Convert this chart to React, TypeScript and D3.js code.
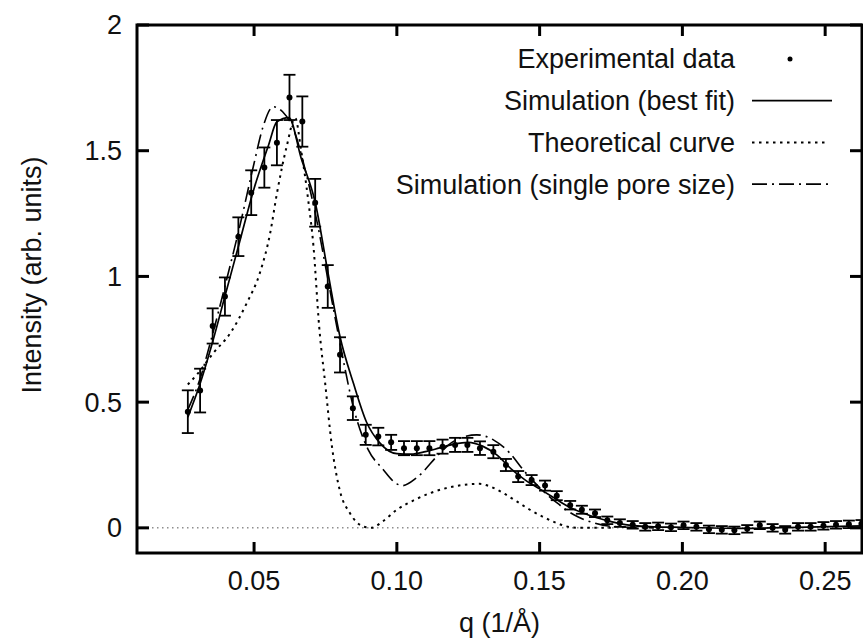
import React from "react";
import * as d3 from "d3";

// experimental points: q, intensity, error
const expQ = [
  0.0268, 0.0311, 0.0355, 0.0398, 0.0445, 0.049, 0.0536, 0.058, 0.0624, 0.0669,
  0.0714, 0.0758, 0.0801, 0.0846, 0.0891, 0.0935, 0.098, 0.1025, 0.107, 0.1114,
  0.116, 0.1204, 0.1247, 0.1291, 0.1338, 0.1382, 0.1425, 0.1472, 0.1519, 0.156,
  0.1607, 0.1648, 0.1694, 0.1737, 0.1781, 0.1826, 0.187, 0.1915, 0.196, 0.2004,
  0.2049, 0.2093, 0.2138, 0.2182, 0.2227, 0.2271, 0.2316, 0.236, 0.2405, 0.2449,
  0.2494, 0.2538, 0.2583, 0.2627,
];
const expI = [
  0.462, 0.546, 0.803, 0.92, 1.158, 1.333, 1.433, 1.532, 1.712, 1.616,
  1.293, 0.96, 0.688, 0.476, 0.37, 0.363, 0.34, 0.317, 0.317, 0.317,
  0.323, 0.33, 0.33, 0.317, 0.303, 0.25, 0.204, 0.19, 0.168, 0.128,
  0.09, 0.072, 0.058, 0.03, 0.019, 0.012, 0.004, 0.006, 0.002, 0.01,
  0.004, -0.006, -0.008, -0.01, -0.004, 0.01, 0.0, -0.008, 0.004, 0.004,
  0.008, 0.012, 0.014, 0.016,
];
const expErr = [
  0.085, 0.087, 0.07, 0.076, 0.077, 0.089, 0.08, 0.09, 0.09, 0.1,
  0.095, 0.085, 0.07, 0.047, 0.04, 0.035, 0.03, 0.028, 0.028, 0.028,
  0.028, 0.028, 0.028, 0.027, 0.026, 0.024, 0.022, 0.02, 0.02, 0.018,
  0.017, 0.016, 0.015, 0.015, 0.015, 0.015, 0.015, 0.015, 0.015, 0.015,
  0.015, 0.015, 0.015, 0.015, 0.015, 0.015, 0.015, 0.015, 0.015, 0.015,
  0.015, 0.015, 0.015, 0.015,
];

// simulation (best fit)
const fitQ = [
  0.0268, 0.031, 0.035, 0.04, 0.045, 0.05, 0.055, 0.058, 0.0622, 0.0665,
  0.0714, 0.0758, 0.0801, 0.0848, 0.0894, 0.0941, 0.1, 0.105, 0.11, 0.115,
  0.12, 0.125, 0.13, 0.135, 0.14, 0.145, 0.15, 0.155, 0.16, 0.165,
  0.17, 0.175, 0.18, 0.19, 0.2, 0.22, 0.24, 0.2629,
];
const fitI = [
  0.44, 0.57, 0.72, 0.93, 1.14, 1.35, 1.52, 1.615, 1.632, 1.47,
  1.295, 1.02, 0.76, 0.575, 0.42, 0.337, 0.295, 0.293, 0.303, 0.318,
  0.333, 0.34, 0.325, 0.29, 0.235, 0.19, 0.155, 0.12, 0.085, 0.06,
  0.04, 0.025, 0.013, 0.004, 0.002, -0.002, 0.002, 0.008,
];

// theoretical curve
const theoQ = [
  0.0268, 0.03, 0.0357, 0.0417, 0.0474, 0.052, 0.0556, 0.058, 0.0614, 0.0644,
  0.0665, 0.069, 0.0708, 0.0728, 0.0749, 0.0772, 0.08, 0.0836, 0.0883, 0.091,
  0.095, 0.1, 0.106, 0.1116, 0.118, 0.1233, 0.129, 0.133, 0.1373, 0.142,
  0.1466, 0.151, 0.156, 0.1607, 0.165, 0.175,
];
const theoI = [
  0.57, 0.61, 0.695, 0.775, 0.893, 1.013, 1.17, 1.33, 1.516, 1.63,
  1.5, 1.3, 1.12, 0.8, 0.575, 0.33, 0.15, 0.058, 0.005, 0.0,
  0.025, 0.072, 0.11, 0.138, 0.16, 0.171, 0.175, 0.163, 0.138, 0.105,
  0.072, 0.045, 0.019, 0.003, 0.0, 0.0,
];

// simulation (single pore size)
const singleQ = [
  0.0268, 0.031, 0.035, 0.04, 0.045, 0.05, 0.053, 0.0567, 0.06, 0.064,
  0.068, 0.072, 0.076, 0.08, 0.085, 0.09, 0.095, 0.1, 0.102, 0.107,
  0.1151, 0.1197, 0.128, 0.1338, 0.1396, 0.1443, 0.15, 0.156, 0.162, 0.169,
  0.176, 0.19,
];
const singleI = [
  0.47, 0.59, 0.75, 0.97, 1.2, 1.45, 1.59, 1.675, 1.655, 1.58,
  1.42, 1.22, 0.98, 0.74, 0.47, 0.31, 0.235, 0.175, 0.168, 0.2,
  0.297, 0.343, 0.37, 0.35, 0.297, 0.23, 0.16, 0.1, 0.052, 0.02,
  0.005, 0.0,
];

const xTicks = [0.05, 0.1, 0.15, 0.2, 0.25];
const xTickLabels = ["0.05", "0.10", "0.15", "0.20", "0.25"];
const yTicks = [0, 0.5, 1, 1.5, 2];
const yTickLabels = ["0", "0.5", "1", "1.5", "2"];
const legendLabels = [
  "Experimental data",
  "Simulation (best fit)",
  "Theoretical curve",
  "Simulation (single pore size)",
];

const W = 863;
const H = 640;
const left = 137;
const right = 862;
const top = 25;
const bottom = 553;
const font = "'Liberation Sans', Arial, sans-serif";

export default function App() {
  const x = d3.scaleLinear().domain([0.009, 0.2629]).range([left, right]);
  const y = d3.scaleLinear().domain([-0.1, 2]).range([bottom, top]);

  const line = d3
    .line<[number, number]>()
    .x((d) => x(d[0]))
    .y((d) => y(d[1]))
    .curve(d3.curveMonotoneX);

  const zip = (qs: number[], vs: number[]) =>
    qs.map((q, i) => [q, vs[i]] as [number, number]);

  const legendX = 735;
  const legendY0 = 59;
  const legendStep = 41.7;
  const sampleX0 = 752;
  const sampleX1 = 832;

  return (
    <>
      <style>{`body{margin:0}`}</style>
      <svg width={W} height={H} style={{ display: "block", background: "#fff" }}>
        <defs>
          <clipPath id="plot">
            <rect x={left} y={top} width={right - left} height={bottom - top} />
          </clipPath>
        </defs>

        {/* zero line */}
        <line
          x1={left}
          x2={right}
          y1={y(0)}
          y2={y(0)}
          stroke="#555"
          strokeWidth={1}
          strokeDasharray="1.5,3.5"
        />

        <g clipPath="url(#plot)" fill="none" stroke="#000">
          <path d={line(zip(theoQ, theoI)) || ""} strokeWidth={2} strokeDasharray="2.5,4.5" />
          <path d={line(zip(singleQ, singleI)) || ""} strokeWidth={1.6} strokeDasharray="15,5,2,5" />
          <path d={line(zip(fitQ, fitI)) || ""} strokeWidth={1.7} />

          {expQ.map((q, i) => {
            const cx = x(q);
            const y1 = y(expI[i] + expErr[i]);
            const y2 = y(expI[i] - expErr[i]);
            return (
              <g key={i} strokeWidth={1.8}>
                <line x1={cx} x2={cx} y1={y1} y2={y2} />
                <line x1={cx - 6} x2={cx + 6} y1={y1} y2={y1} />
                <line x1={cx - 6} x2={cx + 6} y1={y2} y2={y2} />
                <circle cx={cx} cy={y(expI[i])} r={3} fill="#000" stroke="none" />
              </g>
            );
          })}
        </g>

        {/* frame */}
        <rect
          x={left}
          y={top}
          width={right - left}
          height={bottom - top}
          fill="none"
          stroke="#000"
          strokeWidth={3}
        />

        {/* ticks */}
        {xTicks.map((t) => (
          <g key={"xt" + t} stroke="#000" strokeWidth={3}>
            <line x1={x(t)} x2={x(t)} y1={bottom} y2={bottom - 11} />
            <line x1={x(t)} x2={x(t)} y1={top} y2={top + 11} />
          </g>
        ))}
        {yTicks.map((t) => (
          <g key={"yt" + t} stroke="#000" strokeWidth={3}>
            <line x1={left} x2={left + 12} y1={y(t)} y2={y(t)} />
            <line x1={right} x2={right - 12} y1={y(t)} y2={y(t)} />
          </g>
        ))}

        {/* tick labels */}
        <g fontFamily={font} fontSize={27} fill="#111">
          {xTicks.map((t, i) => (
            <text key={"xl" + t} x={x(t)} y={590} textAnchor="middle">
              {xTickLabels[i]}
            </text>
          ))}
          {yTicks.map((t, i) => (
            <text key={"yl" + t} x={122} y={y(t)} dy="0.35em" textAnchor="end">
              {yTickLabels[i]}
            </text>
          ))}

          <text x={(left + right) / 2} y={632} textAnchor="middle">
            q (1/Å)
          </text>
          <text
            transform={`translate(41, 275) rotate(-90)`}
            textAnchor="middle"
          >
            Intensity (arb. units)
          </text>

          {/* legend */}
          {legendLabels.map((lab, i) => (
            <text
              key={lab}
              x={legendX}
              y={legendY0 + i * legendStep}
              dy="0.35em"
              textAnchor="end"
            >
              {lab}
            </text>
          ))}
        </g>

        <g stroke="#000" fill="none">
          <circle cx={(sampleX0 + sampleX1) / 2 - 2} cy={legendY0} r={2.5} fill="#000" stroke="none" />
          <line
            x1={sampleX0}
            x2={sampleX1}
            y1={legendY0 + legendStep}
            y2={legendY0 + legendStep}
            strokeWidth={1.7}
          />
          <line
            x1={sampleX0}
            x2={sampleX1 - 6}
            y1={legendY0 + 2 * legendStep}
            y2={legendY0 + 2 * legendStep}
            strokeWidth={2}
            strokeDasharray="2.5,4.5"
          />
          <line
            x1={sampleX0}
            x2={sampleX1}
            y1={legendY0 + 3 * legendStep}
            y2={legendY0 + 3 * legendStep}
            strokeWidth={1.6}
            strokeDasharray="15,5,2,5"
          />
        </g>
      </svg>
    </>
  );
}
